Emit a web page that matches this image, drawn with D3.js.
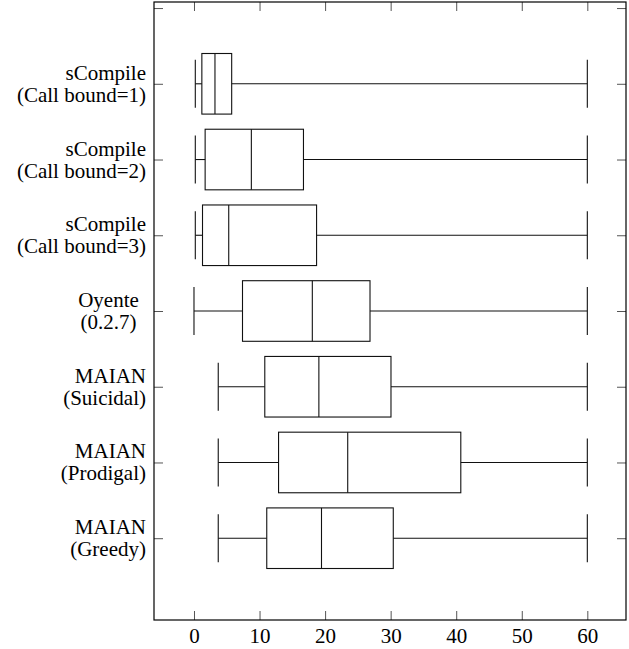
<!DOCTYPE html>
<html>
<head>
<meta charset="utf-8">
<script src="https://cdn.jsdelivr.net/npm/d3@7"></script>
<style>
  body { margin: 0; background: #fff; }
  svg { display: block; }
  .frame { fill: none; stroke: #000; stroke-width: 1.2; }
  .tick line { stroke: #555; stroke-width: 1; }
  .box { fill: none; stroke: #111; stroke-width: 1.1; }
  .whisker { stroke: #111; stroke-width: 1.1; }
  text { font-family: "Liberation Serif", "DejaVu Serif", serif; fill: #000; }
</style>
</head>
<body>
<svg width="629" height="649"></svg>
<script>
// one row per tool, top to bottom
const labels = [
	["sCompile", "(Call bound=1)"],
	["sCompile", "(Call bound=2)"],
	["sCompile", "(Call bound=3)"],
	["Oyente", "(0.2.7)"],
	["MAIAN", "(Suicidal)"],
	["MAIAN", "(Prodigal)"],
	["MAIAN", "(Greedy)"],
];
const lowWhisker = [0.2, 0.2, 0.2, 0, 3.7, 3.7, 3.7];
const lowerQuartile = [1.2, 1.7, 1.3, 7.4, 10.8, 12.9, 11.1];
const median = [3.2, 8.75, 5.3, 18.05, 19.05, 23.45, 19.45];
const upperQuartile = [5.75, 16.7, 18.7, 26.85, 30.05, 40.7, 30.4];
const upperWhisker = [60, 60, 60, 60, 60, 60, 60];
const xTicks = [0, 10, 20, 30, 40, 50, 60];

const svg = d3.select("svg");
const m = { left: 154, right: 626, top: 2, bottom: 620 };

const x = d3.scaleLinear().domain([-6.1, 65.9]).range([m.left, m.right]);
// row positions 1..7, 0 gets only a tick at the top
const y = d3.scaleLinear().domain([-0.08, 8.08]).range([m.top, m.bottom]);

const rows = labels.map((l, i) => ({
	pos: i + 1,
	label: l,
	lw: lowWhisker[i],
	q1: lowerQuartile[i],
	med: median[i],
	q3: upperQuartile[i],
	uw: upperWhisker[i],
}));

// axes (ticks point inward, mirrored on both sides)
const xb = svg.append("g")
	.attr("transform", `translate(0,${m.bottom})`)
	.call(d3.axisBottom(x).tickValues(xTicks).tickSize(-9).tickFormat(d3.format("d")));
xb.select(".domain").remove();
xb.selectAll("text")
	.attr("y", 23)
	.attr("dy", null)
	.style("font-size", "21px");

const xt = svg.append("g")
	.attr("transform", `translate(0,${m.top})`)
	.call(d3.axisTop(x).tickValues(xTicks).tickSize(-9).tickFormat(""));
xt.select(".domain").remove();

const yTicks = d3.range(0, 8);
const yl = svg.append("g")
	.attr("transform", `translate(${m.left},0)`)
	.call(d3.axisLeft(y).tickValues(yTicks).tickSize(-9).tickFormat(""));
yl.select(".domain").remove();

const yr = svg.append("g")
	.attr("transform", `translate(${m.right},0)`)
	.call(d3.axisRight(y).tickValues(yTicks).tickSize(-9).tickFormat(""));
yr.select(".domain").remove();

svg.append("rect")
	.attr("class", "frame")
	.attr("x", m.left)
	.attr("y", m.top)
	.attr("width", m.right - m.left)
	.attr("height", m.bottom - m.top);

// boxplots
const boxH = y(0.4) - y(0);
const capH = y(0.317) - y(0);

const g = svg.append("g")
	.selectAll("g")
	.data(rows)
	.join("g");

g.append("line")
	.attr("class", "whisker")
	.attr("x1", d => x(d.lw))
	.attr("x2", d => x(d.q1))
	.attr("y1", d => y(d.pos))
	.attr("y2", d => y(d.pos));
g.append("line")
	.attr("class", "whisker")
	.attr("x1", d => x(d.q3))
	.attr("x2", d => x(d.uw))
	.attr("y1", d => y(d.pos))
	.attr("y2", d => y(d.pos));
g.append("line")
	.attr("class", "whisker")
	.attr("x1", d => x(d.lw))
	.attr("x2", d => x(d.lw))
	.attr("y1", d => y(d.pos) - capH)
	.attr("y2", d => y(d.pos) + capH);
g.append("line")
	.attr("class", "whisker")
	.attr("x1", d => x(d.uw))
	.attr("x2", d => x(d.uw))
	.attr("y1", d => y(d.pos) - capH)
	.attr("y2", d => y(d.pos) + capH);
g.append("rect")
	.attr("class", "box")
	.attr("x", d => x(d.q1))
	.attr("y", d => y(d.pos) - boxH)
	.attr("width", d => x(d.q3) - x(d.q1))
	.attr("height", 2 * boxH);
g.append("line")
	.attr("class", "whisker")
	.attr("x1", d => x(d.med))
	.attr("x2", d => x(d.med))
	.attr("y1", d => y(d.pos) - boxH)
	.attr("y2", d => y(d.pos) + boxH);

// y labels: two lines, centred, pushed right-aligned if too wide
const labelCx = 108.5, labelRight = 146;
const lab = svg.append("g")
	.selectAll("text")
	.data(rows)
	.join("text")
	.style("font-size", "21px")
	.attr("y", d => y(d.pos));
lab.selectAll("tspan")
	.data(d => d.label)
	.join("tspan")
	.attr("dy", (t, i) => i === 0 ? -4 : 22)
	.text(t => t);
lab.each(function() {
	const t = d3.select(this);
	const w = d3.max(t.selectAll("tspan").nodes(), n => n.getComputedTextLength());
	if (labelCx + w / 2 > labelRight) {
		t.attr("text-anchor", "end");
		t.selectAll("tspan").attr("x", labelRight);
	} else {
		t.attr("text-anchor", "middle");
		t.selectAll("tspan").attr("x", labelCx);
	}
});
</script>
</body>
</html>
